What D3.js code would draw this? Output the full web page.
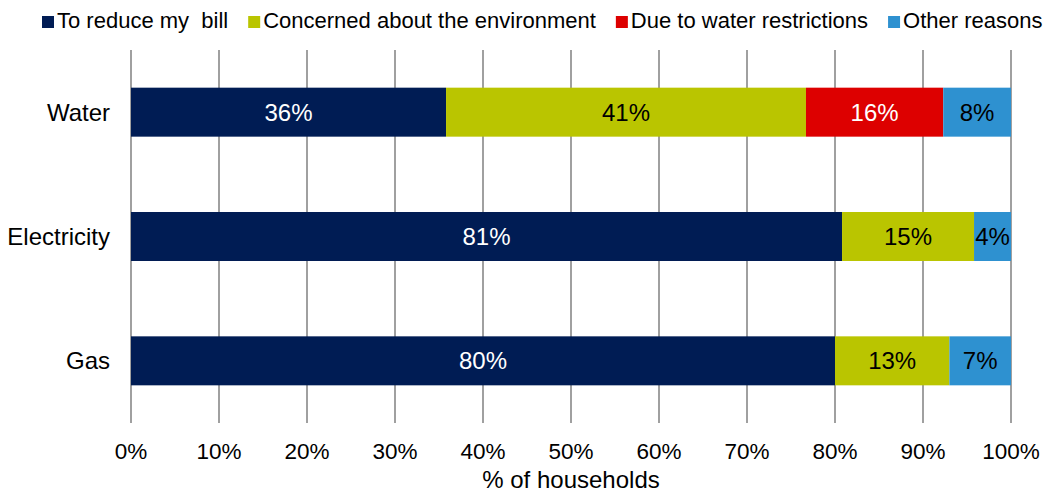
<!DOCTYPE html>
<html>
<head>
<meta charset="utf-8">
<script src="https://cdn.jsdelivr.net/npm/d3@7"></script>
<style>
  html, body { margin: 0; padding: 0; background: #fff; }
  svg { display: block; font-family: "Liberation Sans", Arial, sans-serif; }
</style>
</head>
<body>
<svg id="chart" width="1048" height="493"></svg>
<script>
// Reasons households gave for saving each utility (% of households)
const utilities = ["Water", "Electricity", "Gas"];
const reasons = ["To reduce my  bill", "Concerned about the environment", "Due to water restrictions", "Other reasons"];
const reduceBill     = [35.8, 80.8, 80.0];
const environment    = [40.9, 15.0, 13.0];
const restrictions   = [15.6, 0, 0];
const otherReasons   = [7.7, 4.2, 7.0];
const reasonColors   = ["#001c54", "#bac500", "#dd0000", "#2e91d0"];
const labelColors    = ["#ffffff", "#000000", "#ffffff", "#000000"];
const xTicks = [0, 10, 20, 30, 40, 50, 60, 70, 80, 90, 100];

const seriesValues = [reduceBill, environment, restrictions, otherReasons];
const rows = utilities.map((u, i) => {
  const r = { utility: u };
  reasons.forEach((k, j) => { r[k] = seriesValues[j][i]; });
  return r;
});

const svg = d3.select("#chart");
const margin = { left: 131, right: 37, top: 50, bottom: 70 };
const W = 1048, H = 493;

const x = d3.scaleLinear().domain([0, 100]).range([margin.left, W - margin.right]);
const y = d3.scaleBand().domain(utilities)
  .range([margin.top, H - margin.bottom])
  .paddingInner(0.606).paddingOuter(0.303);

// vertical gridlines
svg.append("g").selectAll("line").data(xTicks).join("line")
  .attr("x1", d => x(d)).attr("x2", d => x(d))
  .attr("y1", margin.top).attr("y2", H - margin.bottom)
  .attr("stroke", "#808080").attr("stroke-width", 1.5);

const stacked = d3.stack().keys(reasons)(rows);

const layers = svg.append("g").selectAll("g").data(stacked).join("g")
  .attr("fill", (d, i) => reasonColors[i]);

layers.selectAll("rect").data(d => d.filter(s => s[1] - s[0] > 0)).join("rect")
  .attr("x", d => x(d[0]))
  .attr("width", d => x(d[1]) - x(d[0]))
  .attr("y", d => y(d.data.utility))
  .attr("height", y.bandwidth());

// value labels inside segments
stacked.forEach((layer, i) => {
  svg.append("g").selectAll("text").data(layer.filter(s => s[1] - s[0] > 0)).join("text")
    .attr("x", d => (x(d[0]) + x(d[1])) / 2)
    .attr("y", d => y(d.data.utility) + y.bandwidth() / 2)
    .attr("dy", "0.36em")
    .attr("text-anchor", "middle")
    .attr("font-size", 24)
    .attr("fill", labelColors[i])
    .text(d => Math.round(d[1] - d[0]) + "%");
});

// category labels
svg.append("g").selectAll("text").data(utilities).join("text")
  .attr("x", margin.left - 21)
  .attr("y", d => y(d) + y.bandwidth() / 2)
  .attr("dy", "0.36em")
  .attr("text-anchor", "end")
  .attr("font-size", 24)
  .attr("fill", "#000")
  .text(d => d);

// x tick labels
svg.append("g").selectAll("text").data(xTicks).join("text")
  .attr("x", d => x(d))
  .attr("y", 459)
  .attr("text-anchor", "middle")
  .attr("font-size", 22.5)
  .attr("fill", "#000")
  .text(d => d + "%");

// axis title
svg.append("text")
  .attr("x", (x(0) + x(100)) / 2)
  .attr("y", 488)
  .attr("text-anchor", "middle")
  .attr("font-size", 24)
  .attr("fill", "#000")
  .text("% of households");

// legend
const legend = svg.append("g");
let lx = 42;
reasons.forEach((name, i) => {
  legend.append("rect")
    .attr("x", lx).attr("y", 16).attr("width", 12).attr("height", 12)
    .attr("fill", reasonColors[i]);
  const t = legend.append("text")
    .attr("x", lx + 15).attr("y", 28)
    .attr("font-size", 22)
    .attr("fill", "#000")
    .style("white-space", "pre")
    .text(name);
  lx += 15 + t.node().getComputedTextLength() + 20;
});
</script>
</body>
</html>
